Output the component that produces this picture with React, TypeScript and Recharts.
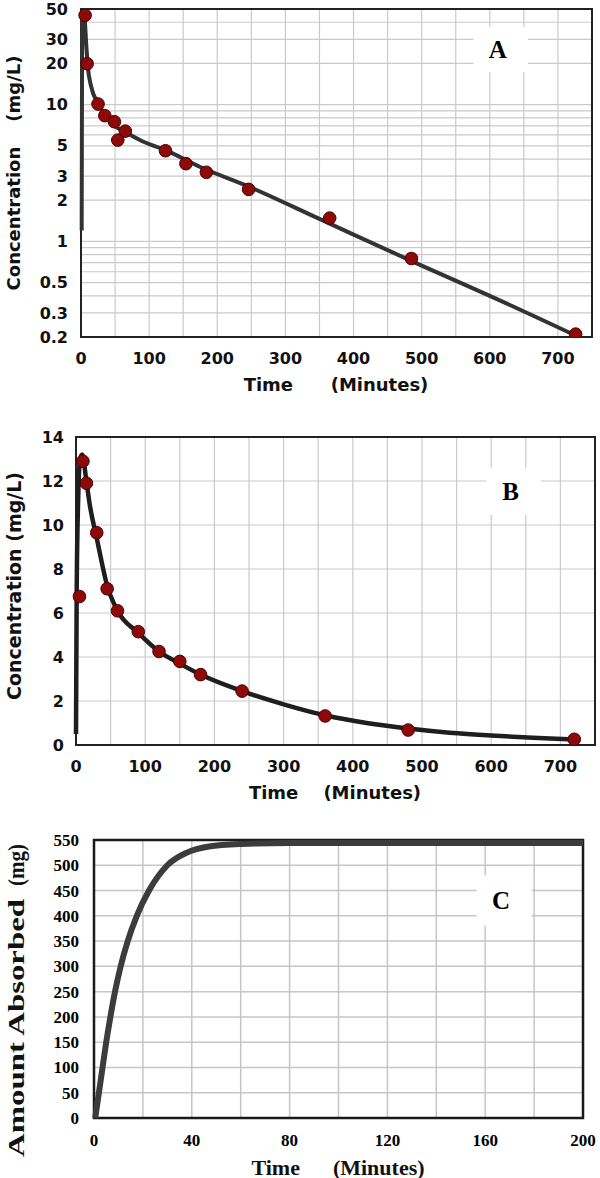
import React from "react";
import {
  ComposedChart,
  Line,
  Scatter,
  XAxis,
  YAxis,
  CartesianGrid,
  ReferenceArea,
} from "recharts";

const SANS = "'DejaVu Sans', Verdana, sans-serif";
const SERIF = "'Liberation Serif', 'Times New Roman', serif";
const NB = "\u00a0";

// ---- Panel A: log plot of concentration ----
const timeA = [6, 9, 25, 35, 49, 54, 65, 124, 154, 184, 246, 365, 485, 726];
const concA = [45, 19.9, 10.1, 8.3, 7.5, 5.5, 6.4, 4.6, 3.7, 3.2, 2.4, 1.48, 0.75, 0.21];
const fitTimeA = [1, 2, 5, 8, 10, 15, 25, 35, 45, 65, 90, 124, 175, 246, 350, 500, 600, 726];
const fitConcA = [1.2, 48, 44, 26, 19, 13.5, 10.2, 8.5, 7.3, 6.3, 5.4, 4.65, 3.5, 2.52, 1.46, 0.665, 0.4, 0.205];
const xTicksA = [0, 50, 100, 150, 200, 250, 300, 350, 400, 450, 500, 550, 600, 650, 700, 750];
const xLabelsA = [0, 100, 200, 300, 400, 500, 600, 700];
const yTicksA = [0.2, 0.3, 0.4, 0.5, 0.6, 0.7, 0.8, 0.9, 1, 2, 3, 4, 5, 6, 7, 8, 9, 10, 20, 30, 40, 50];
const yLabelsA = [0.2, 0.3, 0.5, 1, 2, 3, 5, 10, 20, 30, 50];

// ---- Panel B: linear plot of concentration ----
const timeB = [5, 10, 15, 30, 45, 60, 90, 120, 150, 180, 240, 360, 480, 720];
const concB = [6.75, 12.9, 11.9, 9.65, 7.1, 6.1, 5.15, 4.25, 3.8, 3.2, 2.45, 1.32, 0.68, 0.26];
const fitTimeB = [0, 1, 3, 6, 9, 15, 20, 30, 45, 60, 90, 120, 150, 180, 240, 300, 360, 420, 480, 540, 600, 660, 720];
const fitConcB = [0.5, 7, 11, 13, 13.2, 12.0, 10.9, 9.4, 7.25, 6.1, 5.1, 4.25, 3.7, 3.2, 2.45, 1.85, 1.35, 1.0, 0.75, 0.56, 0.43, 0.33, 0.25];
const xTicksB = xTicksA;
const xLabelsB = xLabelsA;
const yTicksB = [0, 2, 4, 6, 8, 10, 12, 14];

// ---- Panel C: amount absorbed ----
const timeC = [0.5, 2, 3.5, 5, 6.7, 8.6, 10.9, 13.8, 17.5, 22.5, 30, 38, 47, 60, 80, 100, 150, 200];
const amountC = [0, 50, 100, 150, 200, 250, 300, 350, 400, 450, 500, 525, 537, 542, 544, 544, 544, 544];
const xTicksC = [0, 20, 40, 60, 80, 100, 120, 140, 160, 180, 200];
const xLabelsC = [0, 40, 80, 120, 160, 200];
const yTicksC = [0, 50, 100, 150, 200, 250, 300, 350, 400, 450, 500, 550];

const pairs = (xs: number[], ys: number[]) => xs.map((t, i) => ({ t, v: ys[i] }));

const onlyIn = (list: number[]) => (v: number) => (list.includes(v) ? String(v) : "");

const dot = (props: any) => (
  <circle cx={props.cx} cy={props.cy} r={6.3} fill="#8e0a0a" stroke="#4a0000" strokeWidth={1} />
);

const panelLetter = (letter: string) => (props: any) => {
  const { x, y, width, height } = props.viewBox;
  return (
    <text
      x={x + width / 2 - 3}
      y={y + height / 2}
      textAnchor="middle"
      dominantBaseline="central"
      fontFamily={SERIF}
      fontWeight="bold"
      fontSize={25}
      fill="#000"
    >
      {letter}
    </text>
  );
};

const hTitle = (text: string, cx: number, cy: number, font: string, size: number) => () => (
  <text x={cx} y={cy} textAnchor="middle" dominantBaseline="central" fontFamily={font} fontWeight="bold" fontSize={size} fill="#111">
    {text}
  </text>
);

const vTitle = (text: string, cx: number, cy: number, font: string, size: number, len?: number) => (
  <text
    x={cx}
    y={cy}
    transform={`rotate(-90, ${cx}, ${cy})`}
    textAnchor="middle"
    dominantBaseline="central"
    fontFamily={font}
    fontWeight="bold"
    fontSize={size}
    fill="#111"
    textLength={len}
    lengthAdjust={len ? "spacingAndGlyphs" : undefined}
  >
    {text}
  </text>
);

function PanelA() {
  return (
    <ComposedChart width={600} height={400} margin={{ top: 9, right: 8, left: 0, bottom: 8 }}>
      <CartesianGrid stroke="#cacaca" strokeWidth={1.2} />
      <XAxis
        dataKey="t"
        type="number"
        domain={[0, 750]}
        ticks={xTicksA}
        interval={0}
        tickFormatter={onlyIn(xLabelsA)}
        axisLine={false}
        tickLine={false}
        tickSize={0}
        tickMargin={16}
        height={55}
        tick={{ fontFamily: SANS, fontWeight: "bold", fontSize: 16, fill: "#111" }}
        label={hTitle(`Time${NB.repeat(6)}(Minutes)`, 336, 384, SANS, 18)}
      />
      <YAxis
        dataKey="v"
        type="number"
        scale="log"
        domain={[0.2, 50]}
        allowDataOverflow
        ticks={yTicksA}
        interval={0}
        tickFormatter={onlyIn(yLabelsA)}
        axisLine={false}
        tickLine={false}
        tickSize={0}
        tickMargin={13}
        width={81}
        tick={{ fontFamily: SANS, fontWeight: "bold", fontSize: 16, fill: "#111" }}
        label={() => vTitle(`Concentration${NB.repeat(4)}(mg/L)`, 13, 173, SANS, 18)}
      />
      <ReferenceArea x1={576} x2={656} y1={17.3} y2={36.9} fill="#fff" fillOpacity={1} stroke="none" label={panelLetter("A")} />
      <ReferenceArea x1={0} x2={750} y1={0.2} y2={50} fill="none" stroke="#222" strokeWidth={2} />
      <Line
        data={pairs(fitTimeA, fitConcA)}
        dataKey="v"
        type="monotone"
        stroke="#333"
        strokeWidth={4}
        dot={false}
        activeDot={false}
        isAnimationActive={false}
      />
      <Scatter data={pairs(timeA, concA)} dataKey="v" shape={dot} isAnimationActive={false} />
    </ComposedChart>
  );
}

function PanelB() {
  return (
    <ComposedChart width={600} height={410} margin={{ top: 37, right: 5, left: 0, bottom: 8 }}>
      <CartesianGrid stroke="#cacaca" strokeWidth={1.2} />
      <XAxis
        dataKey="t"
        type="number"
        domain={[0, 750]}
        ticks={xTicksB}
        interval={0}
        tickFormatter={onlyIn(xLabelsB)}
        axisLine={false}
        tickLine={false}
        tickSize={0}
        tickMargin={16}
        height={57}
        tick={{ fontFamily: SANS, fontWeight: "bold", fontSize: 16, fill: "#111" }}
        label={hTitle(`Time${NB.repeat(4)}(Minutes)`, 335, 392, SANS, 18)}
      />
      <YAxis
        dataKey="v"
        type="number"
        domain={[0, 14]}
        ticks={yTicksB}
        interval={0}
        axisLine={false}
        tickLine={false}
        tickSize={0}
        tickMargin={12}
        width={76}
        tick={{ fontFamily: SANS, fontWeight: "bold", fontSize: 16, fill: "#111" }}
        label={() => vTitle(`Concentration${NB}(mg/L)`, 14, 186, SANS, 19)}
      />
      <ReferenceArea x1={593} x2={672} y1={10.45} y2={12.6} fill="#fff" fillOpacity={1} stroke="none" label={panelLetter("B")} />
      <ReferenceArea x1={0} x2={750} y1={0} y2={14} fill="none" stroke="#222" strokeWidth={2} />
      <Line
        data={pairs(fitTimeB, fitConcB)}
        dataKey="v"
        type="monotone"
        stroke="#1e1e1e"
        strokeWidth={4.5}
        dot={false}
        activeDot={false}
        isAnimationActive={false}
      />
      <Scatter data={pairs(timeB, concB)} dataKey="v" shape={dot} isAnimationActive={false} />
    </ComposedChart>
  );
}

function PanelC() {
  return (
    <ComposedChart width={600} height={368} margin={{ top: 30, right: 17, left: 0, bottom: 8 }}>
      <CartesianGrid stroke="#c6c6c6" strokeWidth={1.5} />
      <XAxis
        dataKey="t"
        type="number"
        domain={[0, 200]}
        ticks={xTicksC}
        interval={0}
        tickFormatter={onlyIn(xLabelsC)}
        axisLine={false}
        tickLine={false}
        tickSize={0}
        tickMargin={16}
        height={52}
        tick={{ fontFamily: SERIF, fontWeight: "bold", fontSize: 17, fill: "#000" }}
        label={hTitle(`Time${NB.repeat(6)}(Minutes)`, 338, 357, SERIF, 22)}
      />
      <YAxis
        dataKey="v"
        type="number"
        domain={[0, 550]}
        ticks={yTicksC}
        interval={0}
        axisLine={false}
        tickLine={false}
        tickSize={0}
        tickMargin={15}
        width={94}
        tick={{ fontFamily: SERIF, fontWeight: "bold", fontSize: 17, fill: "#000" }}
        label={() => (
          <g>
            {vTitle("(mg)", 16, 55, SERIF, 24, 42)}
            {vTitle("Amount Absorbed", 16, 218, SERIF, 24, 258)}
          </g>
        )}
      />
      <ReferenceArea x1={156.5} x2={179} y1={381} y2={479.6} fill="#fff" fillOpacity={1} stroke="none" label={panelLetter("C")} />
      <ReferenceArea x1={0} x2={200} y1={0} y2={550} fill="none" stroke="#1a1a1a" strokeWidth={2.5} />
      <Line
        data={pairs(timeC, amountC)}
        dataKey="v"
        type="monotone"
        stroke="#3c3c3c"
        strokeWidth={6}
        dot={false}
        activeDot={false}
        isAnimationActive={false}
      />
    </ComposedChart>
  );
}

export default function App() {
  return (
    <div style={{ position: "absolute", left: 0, top: 0, width: 600, height: 1178, background: "#fff" }}>
      <div style={{ position: "absolute", left: 0, top: 0 }}>
        <PanelA />
      </div>
      <div style={{ position: "absolute", left: 0, top: 400 }}>
        <PanelB />
      </div>
      <div style={{ position: "absolute", left: 0, top: 810 }}>
        <PanelC />
      </div>
    </div>
  );
}
